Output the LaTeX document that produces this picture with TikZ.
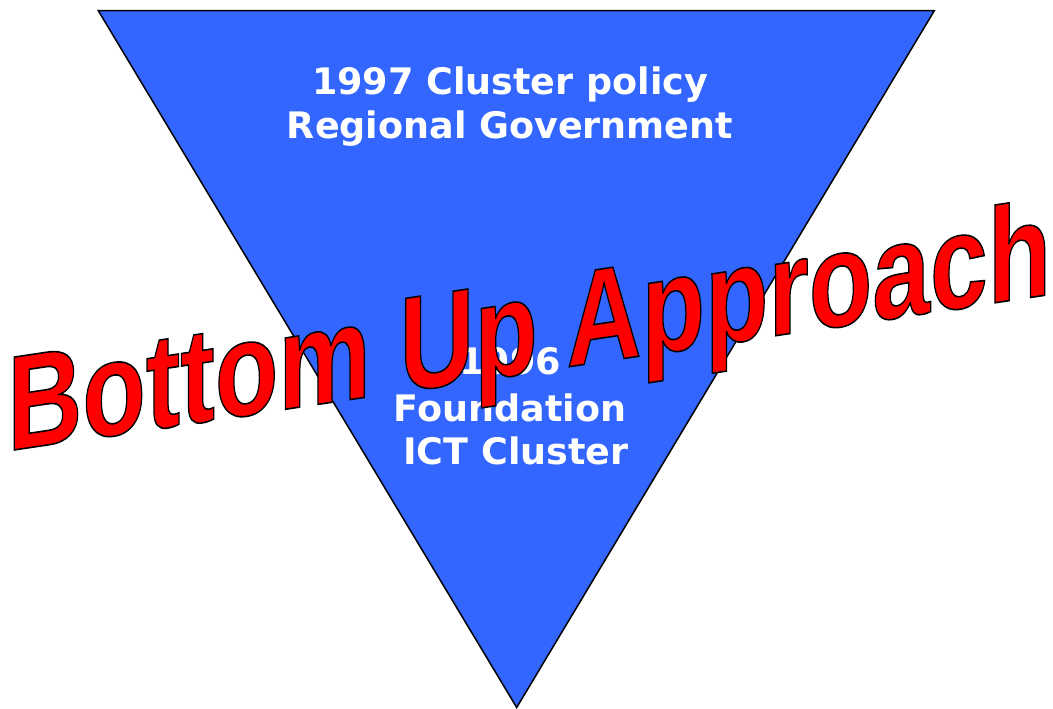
\documentclass[tikz,border=0pt]{standalone}
\usepackage{fontspec}
\newfontfamily\wafont{Liberation Sans}
\newfontfamily\lblfont{DejaVu Sans}
\definecolor{triblue}{HTML}{3366FF}
\newcommand\outlinedtext[1]{\special{pdf:code 2 Tr 1.6 w 0 G}#1\special{pdf:code 0 Tr}}
\begin{document}
\begin{tikzpicture}[x=1pt,y=1pt,
  lbl/.style={text=white, font=\lblfont\bfseries\fontsize{36.5}{40}\selectfont, inner sep=0pt, anchor=base},
  wordart/.style={text=red, font=\wafont\bfseries\fontsize{135}{140}\selectfont, inner sep=0pt, outer sep=0pt, anchor=base west, transform shape}]
\useasboundingbox (0,0) rectangle (1053,709);
\coordinate (tl) at (98.3,698.3);
\coordinate (tr) at (934.3,698.3);
\coordinate (ap) at (516.7,1.5);
\draw[fill=triblue, line width=1.5pt, line join=miter] (tl) -- (tr) -- (ap) -- cycle;
\node[lbl] (l1) at (510,614) {1997 Cluster policy};
\node[lbl] (l2) at (510,570) {Regional Government};
\node[lbl] (l3) at (510,334) {1996};
\node[lbl] (l4) at (510,287) {Foundation};
\node[lbl] (l5) at (516,244) {ICT Cluster};
\begin{scope}[shift={(7.4,258)}, cm={0.769,0.1154,0,1,(0,0)}]
\node[wordart] (wa) at (0,0) {\outlinedtext{Bottom Up Approach}};
\end{scope}
\end{tikzpicture}
\end{document}
